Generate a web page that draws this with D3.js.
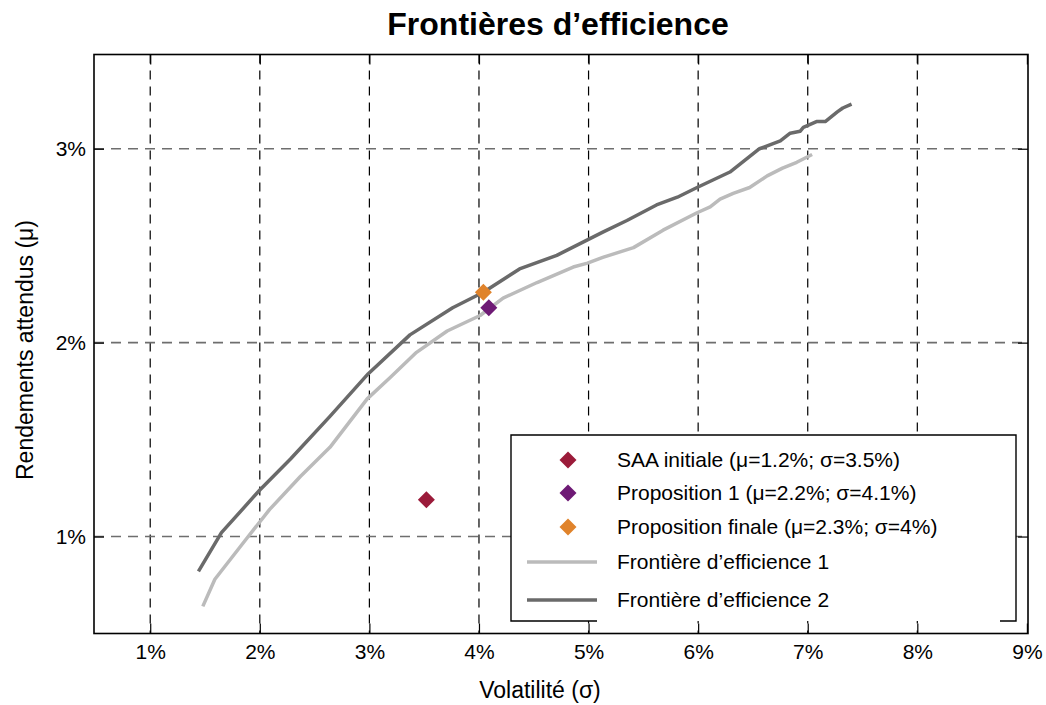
<!DOCTYPE html>
<html>
<head>
<meta charset="utf-8">
<title>Frontières d'efficience</title>
<script src="https://d3js.org/d3.v7.min.js"></script>
<style>
  body { margin: 0; background: #fff; }
  text { font-family: "Liberation Sans", Arial, sans-serif; fill: #000; }
</style>
</head>
<body>
<div id="chart"></div>
<script>
// Data (volatility %, expected return %)
var frontier1X = [1.48, 1.59, 1.88, 2.09, 2.37, 2.64, 2.98, 3.19, 3.43, 3.71, 4.01, 4.22, 4.53, 4.86, 4.99, 5.13, 5.41, 5.68, 5.99, 6.11, 6.20, 6.32, 6.47, 6.63, 6.77, 6.90, 7.04];
var frontier1Y = [0.64, 0.78, 0.99, 1.14, 1.31, 1.46, 1.71, 1.82, 1.95, 2.06, 2.14, 2.23, 2.31, 2.39, 2.41, 2.44, 2.49, 2.58, 2.67, 2.70, 2.74, 2.77, 2.80, 2.86, 2.90, 2.93, 2.97];
var frontier2X = [1.44, 1.65, 2.00, 2.28, 2.64, 2.99, 3.37, 3.76, 4.04, 4.37, 4.71, 4.99, 5.13, 5.35, 5.62, 5.81, 5.99, 6.14, 6.29, 6.56, 6.75, 6.84, 6.93, 6.96, 7.08, 7.16, 7.27, 7.32, 7.40];
var frontier2Y = [0.82, 1.02, 1.24, 1.40, 1.62, 1.84, 2.04, 2.18, 2.26, 2.38, 2.45, 2.53, 2.57, 2.63, 2.71, 2.75, 2.80, 2.84, 2.88, 3.00, 3.04, 3.08, 3.09, 3.11, 3.14, 3.14, 3.19, 3.21, 3.23];
var pointNames = ["SAA initiale (μ=1.2%; σ=3.5%)", "Proposition 1 (μ=2.2%; σ=4.1%)", "Proposition finale (μ=2.3%; σ=4%)"];
var pointX = [3.52, 4.09, 4.04];
var pointY = [1.19, 2.18, 2.26];
var pointColors = ["#9b1b3a", "#6e1a75", "#e0832b"];
var lineNames = ["Frontière d’efficience 1", "Frontière d’efficience 2"];
var lineColors = ["#bbbbbb", "#6a6a6a"];
var xTicks = [1, 2, 3, 4, 5, 6, 7, 8, 9];
var yTicks = [1, 2, 3];

var W = 1046, H = 705;
var L = 94, R = 1028, T = 54.5, B = 633.5;

var svg = d3.select("#chart").append("svg")
  .attr("width", W).attr("height", H);

var x = d3.scaleLinear().domain([0.487, 9.01]).range([L, R]);
var y = d3.scaleLinear().domain([0.5, 3.486]).range([B, T]);

// Grid lines
svg.append("g").selectAll("line").data(xTicks.slice(0, 8)).enter().append("line")
  .attr("x1", function (d) { return x(d); }).attr("x2", function (d) { return x(d); })
  .attr("y1", T).attr("y2", B)
  .attr("stroke", "#000").attr("stroke-width", 1.2)
  .attr("stroke-dasharray", "9,7");
svg.append("g").selectAll("line").data(yTicks).enter().append("line")
  .attr("x1", L).attr("x2", R)
  .attr("y1", function (d) { return y(d); }).attr("y2", function (d) { return y(d); })
  .attr("stroke", "#6e6e6e").attr("stroke-width", 1.6)
  .attr("stroke-dasharray", "10,7");

// Axes with inward ticks
var fmt = function (d) { return d + "%"; };
var xAxis = svg.append("g").attr("transform", "translate(0," + B + ")")
  .call(d3.axisBottom(x).tickValues(xTicks).tickFormat(fmt).tickSizeInner(-10).tickSizeOuter(0).tickPadding(11));
var xTop = svg.append("g").attr("transform", "translate(0," + T + ")")
  .call(d3.axisTop(x).tickValues(xTicks).tickFormat("").tickSizeInner(-10).tickSizeOuter(0));
var yAxis = svg.append("g").attr("transform", "translate(" + L + ",0)")
  .call(d3.axisLeft(y).tickValues(yTicks).tickFormat(fmt).tickSizeInner(-10).tickSizeOuter(0).tickPadding(8));
var yRight = svg.append("g").attr("transform", "translate(" + R + ",0)")
  .call(d3.axisRight(y).tickValues(yTicks).tickFormat("").tickSizeInner(-10).tickSizeOuter(0));
[xAxis, xTop, yAxis, yRight].forEach(function (g) {
  g.select(".domain").remove();
  g.selectAll(".tick line").attr("stroke", "#000").attr("stroke-width", 1.2);
  g.selectAll(".tick text").style("font-size", "21px").style("font-family", "'Liberation Sans', Arial, sans-serif");
});

// Frontier lines
var line = d3.line()
  .x(function (d) { return x(d[0]); })
  .y(function (d) { return y(d[1]); });
var series = [d3.zip(frontier1X, frontier1Y), d3.zip(frontier2X, frontier2Y)];
series.forEach(function (s, i) {
  svg.append("path").datum(s)
    .attr("d", line)
    .attr("fill", "none")
    .attr("stroke", lineColors[i])
    .attr("stroke-width", 3.5)
    .attr("stroke-linejoin", "round");
});

// Diamond markers
var diamond = function (cx, cy, r) {
  return "M" + cx + "," + (cy - r) + "L" + (cx + r) + "," + cy + "L" + cx + "," + (cy + r) + "L" + (cx - r) + "," + cy + "Z";
};
pointX.forEach(function (d, i) {
  svg.append("path")
    .attr("d", diamond(x(d), y(pointY[i]), 8.5))
    .attr("fill", pointColors[i]);
});

// Frame
svg.append("rect")
  .attr("x", L).attr("y", T).attr("width", R - L).attr("height", B - T)
  .attr("fill", "none").attr("stroke", "#000").attr("stroke-width", 1.6);

// Legend
var lg = { x0: 511, x1: 1016, y0: 435, y1: 621 };
svg.append("rect").attr("x", lg.x0).attr("y", lg.y0)
  .attr("width", lg.x1 - lg.x0).attr("height", lg.y1 - lg.y0)
  .attr("fill", "#fff").attr("stroke", "none");
svg.append("path")
  .attr("d", "M597," + lg.y1 + "L" + lg.x0 + "," + lg.y1 + "L" + lg.x0 + "," + lg.y0 +
    "L" + lg.x1 + "," + lg.y0 + "L" + lg.x1 + "," + lg.y1 + "L1000," + lg.y1)
  .attr("fill", "none").attr("stroke", "#000").attr("stroke-width", 1.4);

var rowsY = [460, 493, 527, 562, 600];
pointNames.forEach(function (name, i) {
  svg.append("path").attr("d", diamond(568, rowsY[i], 8.5)).attr("fill", pointColors[i]);
  svg.append("text").attr("x", 617).attr("y", rowsY[i]).attr("dy", "0.35em")
    .style("font-size", "21px").text(name);
});
lineNames.forEach(function (name, i) {
  var ry = rowsY[i + 3];
  svg.append("line").attr("x1", 527).attr("x2", 597).attr("y1", ry).attr("y2", ry)
    .attr("stroke", lineColors[i]).attr("stroke-width", 3.5);
  svg.append("text").attr("x", 617).attr("y", ry).attr("dy", "0.35em")
    .style("font-size", "21px").text(name);
});

// Titles
svg.append("text").attr("x", 558).attr("y", 35).attr("text-anchor", "middle")
  .style("font-size", "32px").style("font-weight", "bold").text("Frontières d’efficience");
svg.append("text").attr("x", 540).attr("y", 698).attr("text-anchor", "middle")
  .style("font-size", "23px").text("Volatilité (σ)");
svg.append("text").attr("transform", "translate(33,350) rotate(-90)").attr("text-anchor", "middle")
  .style("font-size", "23px").text("Rendements attendus (μ)");
</script>
</body>
</html>
